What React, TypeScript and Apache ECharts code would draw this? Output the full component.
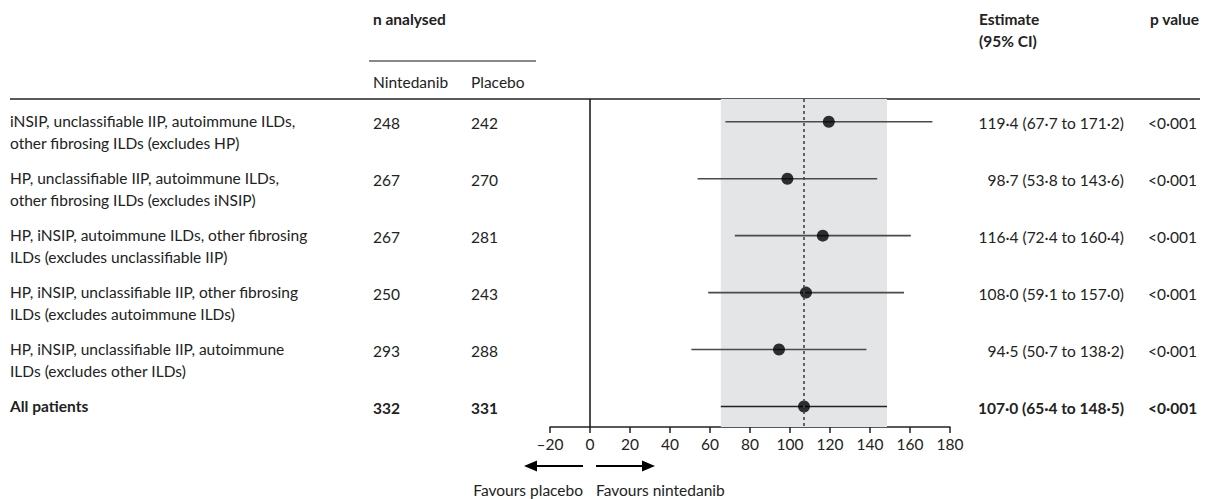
import React, { useEffect, useRef } from "react";
import * as echarts from "echarts";

const rowLabels = [
  "iNSIP, unclassifiable IIP, autoimmune ILDs,\nother fibrosing ILDs (excludes HP)",
  "HP, unclassifiable IIP, autoimmune ILDs,\nother fibrosing ILDs (excludes iNSIP)",
  "HP, iNSIP, autoimmune ILDs, other fibrosing\nILDs (excludes unclassifiable IIP)",
  "HP, iNSIP, unclassifiable IIP, other fibrosing\nILDs (excludes autoimmune ILDs)",
  "HP, iNSIP, unclassifiable IIP, autoimmune\nILDs (excludes other ILDs)",
  "All patients",
];
const nNintedanib = [248, 267, 267, 250, 293, 332];
const nPlacebo = [242, 270, 281, 243, 288, 331];
const estimates = [119.4, 98.7, 116.4, 108.0, 94.5, 107.0];
const ciLow = [67.7, 53.8, 72.4, 59.1, 50.7, 65.4];
const ciHigh = [171.2, 143.6, 160.4, 157.0, 138.2, 148.5];
const pValues = ["<0·001", "<0·001", "<0·001", "<0·001", "<0·001", "<0·001"];
const xTicks = [-20, 0, 20, 40, 60, 80, 100, 120, 140, 160, 180];

const FONT = "Lato";
const FS = 15.5;
const fmt = (v: number) => v.toFixed(1).replace(".", "·");

export default function App() {
  const ref = useRef<HTMLDivElement>(null);
  useEffect(() => {
    if (!ref.current) return;
    const chart = echarts.init(ref.current, null, { renderer: "svg" });
    const last = estimates.length - 1;
    const option: any = {
      animation: false,
      backgroundColor: "#ffffff",
      grid: { left: 550, right: 261, top: 99, bottom: 72, outerBoundsMode: "none" },
      xAxis: {
        type: "value",
        min: xTicks[0],
        max: xTicks[xTicks.length - 1],
        interval: 20,
        splitLine: { show: false },
        axisLine: { show: true, onZero: false, lineStyle: { color: "#222", width: 1.5 } },
        axisTick: { show: true, length: 6, lineStyle: { color: "#222", width: 1.5 } },
        axisLabel: {
          fontFamily: FONT,
          fontSize: 15.5,
          color: "#222",
          margin: 9,
          formatter: (v: number) => (v < 0 ? "–" + Math.abs(v) : String(v)),
        },
      },
      yAxis: { type: "value", inverse: true, min: -0.4, max: 5.36, show: false },
      series: [
        {
          type: "custom",
          coordinateSystem: "cartesian2d",
          data: estimates.map((_, i) => [ciLow[i], ciHigh[i], i]),
          renderItem: (params: any, api: any) => {
            const p1 = api.coord([api.value(0), api.value(2)]);
            const p2 = api.coord([api.value(1), api.value(2)]);
            return {
              type: "line",
              shape: { x1: p1[0], y1: p1[1], x2: p2[0], y2: p2[1] },
              style: { stroke: params.dataIndex === last ? "#222" : "#4a4a4a", lineWidth: 1.6 },
            };
          },
          z: 3,
          markArea: {
            silent: true,
            itemStyle: { color: "#e4e5e7" },
            data: [[{ xAxis: ciLow[last] }, { xAxis: ciHigh[last] }]],
          },
          markLine: {
            silent: true,
            symbol: "none",
            label: { show: false },
            data: [
              { xAxis: estimates[last], lineStyle: { color: "#444", type: [3, 3], width: 1.6 } },
              { xAxis: 0, lineStyle: { color: "#111", type: "solid", width: 1.5 } },
            ],
          },
        },
        {
          type: "scatter",
          data: estimates.map((v, i) => [v, i]),
          symbol: "circle",
          symbolSize: 12,
          itemStyle: { color: "#000" },
          z: 4,
        },
      ],
    };
    chart.setOption(option);

    const rowY = estimates.map((_, i) => chart.convertToPixel({ gridIndex: 0 }, [0, i])[1]);
    const txt = (x: number, y: number, text: string, o: any = {}) => ({
      type: "text",
      x,
      y,
      silent: true,
      style: {
        text,
        fontFamily: FONT,
        fontSize: FS,
        fill: "#222",
        verticalAlign: "middle",
        align: "left",
        ...o,
      },
    });
    const g: any[] = [];
    // header
    g.push(txt(373, 19, "n analysed", { fontWeight: "bold" }));
    g.push({ type: "line", shape: { x1: 369, y1: 61, x2: 536, y2: 61 }, style: { stroke: "#888", lineWidth: 2 } });
    g.push(txt(373, 82, "Nintedanib"));
    g.push(txt(471, 82, "Placebo"));
    g.push(txt(979, 19, "Estimate", { fontWeight: "bold" }));
    g.push(txt(979, 41, "(95% CI)", { fontWeight: "bold" }));
    g.push(txt(1199, 19, "p value", { fontWeight: "bold", align: "right" }));
    g.push({ type: "line", shape: { x1: 10, y1: 99, x2: 1200, y2: 99 }, style: { stroke: "#222", lineWidth: 1.5 } });
    // rows
    rowLabels.forEach((lab, i) => {
      const bold = i === last ? { fontWeight: "bold" } : {};
      const y = rowY[i];
      g.push(txt(10, y - 12, lab, { verticalAlign: "top", lineHeight: 22, ...bold }));
      g.push(txt(373, y + 1, String(nNintedanib[i]), bold));
      g.push(txt(471, y + 1, String(nPlacebo[i]), bold));
      g.push(
        txt(1124, y + 1, `${fmt(estimates[i])} (${fmt(ciLow[i])} to ${fmt(ciHigh[i])})`, {
          align: "right",
          ...bold,
        })
      );
      g.push(txt(1148, y + 1, pValues[i], bold));
    });
    // arrows
    g.push({ type: "line", shape: { x1: 535, y1: 466, x2: 583, y2: 466 }, style: { stroke: "#000", lineWidth: 1.8 } });
    g.push({ type: "polygon", shape: { points: [[524, 466], [537, 460.5], [537, 471.5]] }, style: { fill: "#000" } });
    g.push({ type: "line", shape: { x1: 596, y1: 466, x2: 644, y2: 466 }, style: { stroke: "#000", lineWidth: 1.8 } });
    g.push({ type: "polygon", shape: { points: [[655, 466], [642, 460.5], [642, 471.5]] }, style: { fill: "#000" } });
    g.push(txt(583, 490, "Favours placebo", { align: "right" }));
    g.push(txt(596, 490, "Favours nintedanib"));

    chart.setOption({ graphic: g });
    return () => chart.dispose();
  }, []);
  return (
    <div
      ref={ref}
      style={{ position: "fixed", left: 0, top: 0, width: 1211, height: 499, background: "#fff" }}
    />
  );
}
